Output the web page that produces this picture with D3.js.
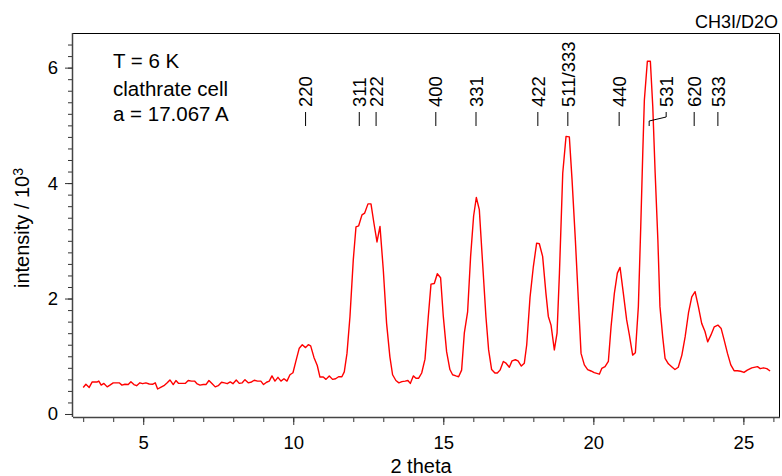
<!DOCTYPE html>
<html>
<head>
<meta charset="utf-8">
<script src="https://cdn.jsdelivr.net/npm/d3@7"></script>
<style>
  body { margin: 0; background: #fff; }
  text { font-family: "Liberation Sans", Arial, Helvetica, sans-serif; fill: #000; }
</style>
</head>
<body>
<div id="viz"></div>
<script>
//DATA: diffraction pattern (2 theta in degrees, intensity in 10^3 counts)
const theta = [3.0,3.09,3.2,3.3,3.47,3.52,3.6,3.69,3.8,3.89,4.0,4.2,4.29,4.39,4.5,4.59,4.69,4.78,4.89,4.98,
  5.09,5.2,5.31,5.4,5.48,5.58,5.69,5.8,5.89,6.0,6.09,6.18,6.29,6.4,6.5,6.61,6.71,6.8,6.89,7.0,
  7.09,7.19,7.29,7.4,7.5,7.61,7.71,7.8,7.9,7.99,8.1,8.2,8.3,8.39,8.5,8.61,8.7,8.81,8.92,9.01,
  9.11,9.2,9.29,9.39,9.49,9.59,9.69,9.79,9.89,9.99,10.09,10.2,10.3,10.41,10.5,10.58,10.69,10.8,10.89,11.0,
  11.09,11.2,11.31,11.41,11.51,11.62,11.7,11.79,11.89,12.0,12.09,12.18,12.29,12.38,12.49,12.59,12.69,12.79,12.89,13.0,
  13.11,13.22,13.31,13.42,13.52,13.62,13.73,13.82,13.9,14.0,14.09,14.18,14.28,14.39,14.5,14.59,14.7,14.8,14.91,15.0,
  15.11,15.22,15.31,15.42,15.51,15.61,15.7,15.81,15.91,16.01,16.1,16.2,16.31,16.42,16.51,16.61,16.72,16.8,16.89,17.0,
  17.09,17.2,17.29,17.4,17.49,17.6,17.7,17.78,17.89,18.0,18.11,18.2,18.31,18.42,18.5,18.59,18.7,18.79,18.87,18.98,
  19.09,19.2,19.29,19.4,19.5,19.59,19.7,19.81,19.92,20.03,20.2,20.28,20.39,20.5,20.59,20.7,20.8,20.89,21.0,21.11,
  21.2,21.31,21.4,21.5,21.58,21.65,21.7,21.8,21.9,21.98,22.06,22.15,22.22,22.31,22.39,22.5,22.61,22.72,22.83,22.95,
  23.06,23.17,23.28,23.39,23.5,23.61,23.72,23.81,23.92,24.03,24.15,24.26,24.36,24.47,24.58,24.69,24.8,24.91,25.02,25.13,
  25.28,25.47,25.56,25.67,25.78,25.89];
const intensity = [0.46,0.515,0.46,0.555,0.555,0.57,0.5,0.53,0.47,0.5,0.54,0.54,0.5,0.515,0.51,0.56,0.51,0.49,0.54,0.525,
  0.54,0.52,0.515,0.54,0.433,0.46,0.49,0.54,0.59,0.51,0.58,0.53,0.53,0.53,0.58,0.57,0.57,0.52,0.5,0.51,
  0.51,0.58,0.53,0.47,0.49,0.55,0.54,0.525,0.555,0.525,0.59,0.53,0.54,0.595,0.54,0.555,0.585,0.57,0.57,0.51,
  0.55,0.57,0.66,0.57,0.635,0.57,0.61,0.57,0.68,0.715,0.92,1.14,1.2,1.15,1.2,1.18,0.98,0.84,0.64,0.64,
  0.6,0.66,0.6,0.61,0.645,0.645,0.73,1.05,1.69,2.67,3.24,3.26,3.45,3.48,3.64,3.64,3.3,2.98,3.25,2.5,
  1.57,0.99,0.68,0.58,0.54,0.56,0.57,0.58,0.53,0.66,0.62,0.62,0.71,0.95,1.69,2.25,2.26,2.43,2.36,1.69,
  1.08,0.77,0.68,0.66,0.645,0.76,1.4,1.77,2.73,3.43,3.75,3.54,2.61,1.69,1.11,0.77,0.71,0.71,0.76,0.91,
  0.88,0.81,0.92,0.94,0.92,0.83,0.88,1.2,2.02,2.55,2.96,2.95,2.73,2.09,1.69,1.54,1.11,1.4,2.44,4.17,
  4.81,4.8,4.06,3.02,1.98,1.05,0.85,0.77,0.745,0.716,0.69,0.79,0.82,0.91,1.51,2.09,2.44,2.54,2.09,1.63,
  1.37,1.02,1.06,1.86,3.25,4.58,5.44,6.11,6.11,5.33,4.17,3.02,1.86,1.34,0.965,0.87,0.82,0.77,0.81,1.02,
  1.34,1.75,2.03,2.12,1.86,1.57,1.43,1.25,1.37,1.51,1.54,1.48,1.28,1.05,0.85,0.75,0.75,0.74,0.72,0.76,
  0.8,0.82,0.785,0.8,0.785,0.745];

//reflection labels (hkl) and where they sit on the 2 theta axis
const hklLabels = ["220", "311", "222", "400", "331", "422", "511/333", "440", "531", "620", "533"];
const hklTheta = [10.41, 12.2, 12.76, 14.75, 16.09, 18.15, 19.15, 20.86, 21.86, 23.36, 24.15];

//tick values
const xMajorTicks = [5, 10, 15, 20, 25];
const xMinorTicks = d3.range(3, 27, 1);
const yMajorTicks = [0, 2, 4, 6];
const yMinorTicks = d3.range(0, 6.5, 0.2);

//text in the top left corner
const infoLines = ["T = 6 K", "clathrate cell", "a = 17.067 A"];

//SVG canvas
const width = 782, height = 476;
const svg = d3.select("#viz")
  .append("svg")
  .attr("width", width)
  .attr("height", height);

//plot box
const plotLeft = 73, plotRight = 780, plotTop = 33, plotBottom = 417;

const x = d3.scaleLinear().domain([2.66, 26.22]).range([plotLeft, plotRight]);
const y = d3.scaleLinear().domain([-0.052, 6.6]).range([plotBottom, plotTop]);

//frame (top and right side)
svg.append("path")
  .attr("d", `M${plotLeft},${plotTop + 0.5} H${plotRight - 0.5} V${plotBottom}`)
  .attr("fill", "none")
  .attr("stroke", "#000")
  .attr("stroke-width", 1);

//X axis: minor ticks first, then the labelled ones
svg.append("g")
  .attr("transform", `translate(0,${plotBottom})`)
  .call(d3.axisBottom(x).tickValues(xMinorTicks).tickSize(5).tickFormat(""))
  .call(g => g.select(".domain").remove());

const xAxis = svg.append("g")
  .attr("transform", `translate(0,${plotBottom})`)
  .call(d3.axisBottom(x).tickValues(xMajorTicks).tickSize(8).tickPadding(11).tickFormat(d3.format("d")));
xAxis.select(".domain").attr("d", `M${plotLeft},0.5H${plotRight}`).attr("stroke", "#444").attr("stroke-width", 1.5);

//Y axis
svg.append("g")
  .attr("transform", `translate(${plotLeft},0)`)
  .call(d3.axisLeft(y).tickValues(yMinorTicks).tickSize(5).tickFormat(""))
  .call(g => g.select(".domain").remove());

const yAxis = svg.append("g")
  .attr("transform", `translate(${plotLeft},0)`)
  .call(d3.axisLeft(y).tickValues(yMajorTicks).tickSize(8).tickPadding(7).tickFormat(d3.format("d")));
yAxis.select(".domain").attr("d", `M-0.5,${plotTop}V${plotBottom}`).attr("stroke", "#444").attr("stroke-width", 1.5);

svg.selectAll(".tick line").attr("stroke", "#333");
svg.selectAll(".tick text")
  .style("font-family", '"Liberation Sans", Arial, sans-serif')
  .style("font-size", "18.5px")
  .attr("fill", "#000");

//axis titles
svg.append("text")
  .attr("x", 421)
  .attr("y", 473)
  .attr("text-anchor", "middle")
  .style("font-size", "20px")
  .text("2 theta");

//y title with a real superscript 3
const yTitle = svg.append("text")
  .attr("transform", "translate(29,228) rotate(-90)")
  .attr("text-anchor", "middle")
  .style("font-size", "20px");
yTitle.append("tspan").text("intensity / 10");
yTitle.append("tspan")
  .attr("dy", "-0.45em")
  .style("font-size", "14px")
  .text("3");

//sample name top right
svg.append("text")
  .attr("x", 778)
  .attr("y", 28)
  .attr("text-anchor", "end")
  .style("font-size", "18px")
  .text("CH3I/D2O");

//info block
svg.selectAll("text.info")
  .data(infoLines)
  .enter()
  .append("text")
  .attr("class", "info")
  .attr("x", 113)
  .attr("y", (d, i) => [68, 96, 121][i])
  .style("font-size", "20.5px")
  .text(d => d);

//the measured curve
const points = theta.map((t, i) => [t, intensity[i]]);
const line = d3.line()
  .x(d => x(d[0]))
  .y(d => y(d[1]));

svg.append("path")
  .datum(points)
  .attr("d", line)
  .attr("fill", "none")
  .attr("stroke", "#f00")
  .attr("stroke-width", 1.4)
  .attr("stroke-linejoin", "round");

//hkl markers: short dash under each rotated label
//531 is pushed to the right and joined back with a bent leader line
const hkl = hklLabels.map((lab, i) => ({ lab: lab, t: hklTheta[i] }));
const shift = d => (d.lab === "531" ? 17 : 0);

svg.selectAll("path.hklMark")
  .data(hkl)
  .enter()
  .append("path")
  .attr("class", "hklMark")
  .attr("d", d => {
    const px = x(d.t);
    if (shift(d) === 0) return `M${px},112V126`;
    const tx = px + shift(d);
    return `M${tx},112V117L${px},121V126`;
  })
  .attr("fill", "none")
  .attr("stroke", "#000")
  .attr("stroke-width", 1);

svg.selectAll("text.hkl")
  .data(hkl)
  .enter()
  .append("text")
  .attr("class", "hkl")
  .attr("transform", d => `translate(${x(d.t) + shift(d)},107) rotate(-90)`)
  .attr("dy", "0.36em")
  .style("font-size", "18.5px")
  .text(d => d.lab);
</script>
</body>
</html>
